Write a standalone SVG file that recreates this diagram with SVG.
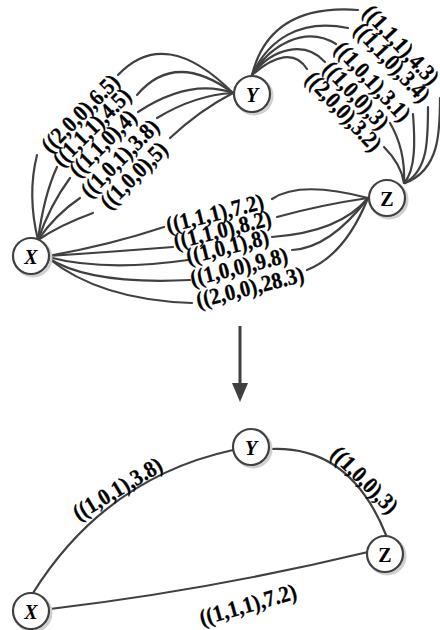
<svg xmlns="http://www.w3.org/2000/svg" width="440" height="630" viewBox="0 0 440 630">
<style>
.e{fill:none;stroke:#404040;stroke-width:2.2;stroke-linecap:round}
.l{font-family:"Liberation Serif","Times New Roman",serif;font-weight:bold;font-size:23px;fill:#000;stroke:#000;stroke-width:0.3;text-anchor:middle;dominant-baseline:central}
.n circle.s{fill:none;stroke:#d0d0d0;stroke-width:3}
.n circle.c{fill:#fff;stroke:#404040;stroke-width:2.2}
.n text{font-family:"Liberation Serif","Times New Roman",serif;font-weight:bold;font-size:20px;text-anchor:middle;dominant-baseline:central}
</style>
<rect width="440" height="630" fill="#fff"/>
<g id="connectors">
<path class="e" d="M38,240 Q27,195 37,155"/>
<path class="e" d="M118,75 Q165,25 233,93"/>
<path class="e" d="M38,240 Q44,195 57,167"/>
<path class="e" d="M137,95 Q175,50 233,93"/>
<path class="e" d="M38,240 Q50,205 70,178"/>
<path class="e" d="M138,112 Q190,78 233,93"/>
<path class="e" d="M38,240 Q55,215 80,198"/>
<path class="e" d="M157,118 Q195,95 233,93"/>
<path class="e" d="M38,240 Q60,225 93,213"/>
<path class="e" d="M170,138 Q200,110 233,93"/>
<path class="e" d="M252,75 C262,35 290,5 358,10"/>
<path class="e" d="M252,75 C268,40 300,18 348,28"/>
<path class="e" d="M252,75 C270,45 305,25 336,44"/>
<path class="e" d="M252,75 C272,48 305,40 325,62"/>
<path class="e" d="M252,75 C275,55 295,50 307,69"/>
<path class="e" d="M440,98 C440,130 440,170 405,183"/>
<path class="e" d="M428,107 C428,140 428,170 405,183"/>
<path class="e" d="M413,114 C415,140 416,170 404,183"/>
<path class="e" d="M390,123 C400,140 405,160 404,183"/>
<path class="e" d="M384,147 C395,158 402,170 404,183"/>
<path class="e" d="M48,256 Q110,245 164,227"/>
<path class="e" d="M272,199 Q300,180 368,198"/>
<path class="e" d="M48,256 Q110,252 173,247"/>
<path class="e" d="M277,217 Q320,205 368,198"/>
<path class="e" d="M48,257 Q105,272 188,260"/>
<path class="e" d="M272,237 Q340,232 368,198"/>
<path class="e" d="M48,258 Q90,285 190,280"/>
<path class="e" d="M292,250 Q330,248 368,198"/>
<path class="e" d="M48,258 Q100,300 192,303"/>
<path class="e" d="M307,270 Q345,255 368,198"/>
<line x1="240" y1="326" x2="240" y2="386" stroke="#404040" stroke-width="3"/>
<polygon points="232,383 248,383 240,402" fill="#404040"/>
<path class="e" d="M33,593 Q105,478 233,450"/>
<path class="e" d="M270,449 Q350,445 386,535"/>
<path class="e" d="M50,609 Q210,590 368,552"/>
</g>
<g id="labels">
<text class="l" transform="translate(80.5,113.5) rotate(-45) scale(0.9,1)">((2,0,0),6.5)</text>
<text class="l" transform="translate(92,127.5) rotate(-45) scale(0.9,1)">((1,1,1),4.5)</text>
<text class="l" transform="translate(103,143.5) rotate(-45) scale(0.9,1)">((1,1,0),4)</text>
<text class="l" transform="translate(120,158.5) rotate(-45) scale(0.9,1)">((1,0,1),3.8)</text>
<text class="l" transform="translate(134,175.5) rotate(-45) scale(0.9,1)">((1,0,0),5)</text>
<text class="l" transform="translate(401,45) rotate(47) scale(0.9,1)">((1,1,1),4.3)</text>
<text class="l" transform="translate(392,62.5) rotate(47) scale(0.9,1)">((1,1,0),3.4)</text>
<text class="l" transform="translate(372.5,81.5) rotate(47) scale(0.9,1)">((1,0,1),3.1)</text>
<text class="l" transform="translate(356,95.5) rotate(47) scale(0.9,1)">((1,0,0),3)</text>
<text class="l" transform="translate(343.5,111.5) rotate(47) scale(0.9,1)">((2,0,0),3.2)</text>
<text class="l" transform="translate(215,213.5) rotate(-14) scale(0.9,1)">((1,1,1),7.2)</text>
<text class="l" transform="translate(222.5,230) rotate(-14) scale(0.9,1)">((1,1,0),8.2)</text>
<text class="l" transform="translate(227.5,247) rotate(-14) scale(0.9,1)">((1,0,1),8)</text>
<text class="l" transform="translate(239,267) rotate(-14) scale(0.9,1)">((1,0,0),9.8)</text>
<text class="l" transform="translate(250,287.5) rotate(-14) scale(0.9,1)">((2,0,0),28.3)</text>
<text class="l" transform="translate(117.5,489) rotate(-31) scale(0.9,1)">((1,0,1),3.8)</text>
<text class="l" transform="translate(364.5,480) rotate(45) scale(0.9,1)">((1,0,0),3)</text>
<text class="l" transform="translate(248,605) rotate(-16) scale(0.9,1)">((1,1,1),7.2)</text>
</g>
<g id="X1" class="n"><circle class="s" cx="33" cy="258" r="18"/><circle class="c" cx="31" cy="256" r="18"/><text x="31" y="257" font-style="italic">X</text></g>
<g id="Y1" class="n"><circle class="s" cx="254" cy="96" r="18"/><circle class="c" cx="252" cy="94" r="18"/><text x="252" y="95" font-style="italic">Y</text></g>
<g id="Z1" class="n"><circle class="s" cx="389" cy="200" r="18"/><circle class="c" cx="387" cy="198" r="18"/><text x="387" y="199">Z</text></g>
<g id="X2" class="n"><circle class="s" cx="33" cy="613" r="18"/><circle class="c" cx="31" cy="611" r="18"/><text x="31" y="612" font-style="italic">X</text></g>
<g id="Y2" class="n"><circle class="s" cx="253" cy="449" r="18"/><circle class="c" cx="251" cy="447" r="18"/><text x="251" y="448" font-style="italic">Y</text></g>
<g id="Z2" class="n"><circle class="s" cx="387" cy="556" r="18"/><circle class="c" cx="385" cy="554" r="18"/><text x="385" y="555">Z</text></g>
</svg>
